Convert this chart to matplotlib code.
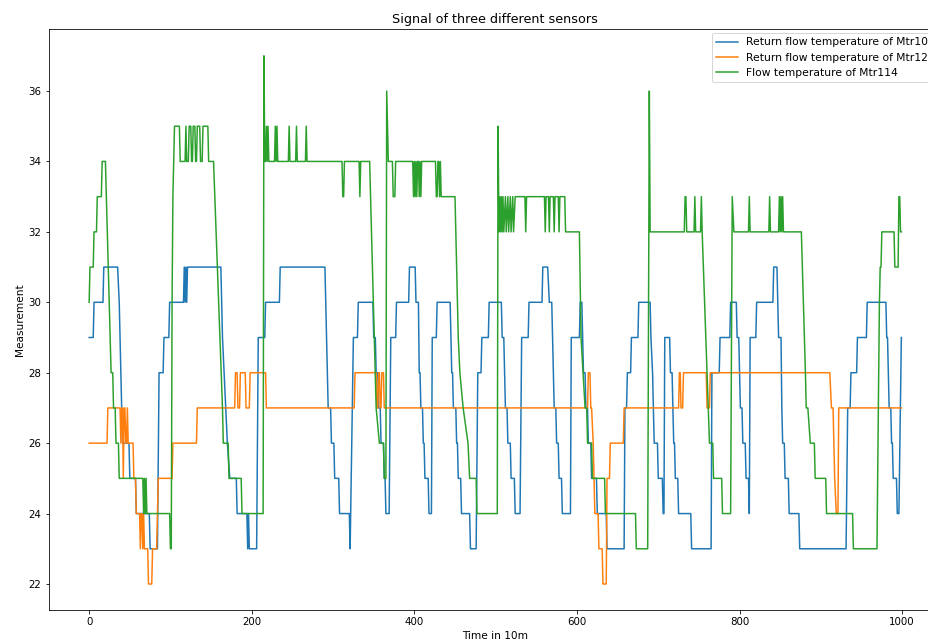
import matplotlib
matplotlib.use("Agg")
import matplotlib.pyplot as plt

# Polyline vertices (sample index, temperature) of each sensor signal
mtr105 = [(0, 29), (5, 29), (6, 30), (17, 30), (18, 31), (35, 31), (37, 30), (38, 29), (39, 28), (40, 27),
          (41, 26), (49, 26), (50, 25), (57, 25), (58, 24), (74, 24), (75, 23), (84, 23), (86, 28), (91, 28),
          (92, 29), (98, 29), (99, 30), (116, 30), (117, 31), (118, 30), (119, 31), (120, 30), (121, 31),
          (162, 31), (163, 30), (164, 29), (166, 28), (168, 27), (170, 26), (173, 25), (181, 25), (182, 24),
          (194, 24), (195, 23), (196, 24), (197, 23), (206, 23), (208, 29), (216, 29), (217, 30), (234, 30),
          (235, 31), (290, 31), (292, 29), (293, 28), (294, 27), (297, 27), (298, 26), (301, 26), (302, 25),
          (307, 25), (308, 24), (320, 24), (321, 23), (325, 29), (330, 29), (331, 30), (349, 30), (350, 29),
          (352, 29), (353, 28), (355, 28), (356, 27), (358, 27), (359, 26), (362, 26), (363, 25), (364, 25),
          (365, 24), (369, 24), (371, 29), (377, 29), (378, 30), (393, 30), (394, 31), (401, 31), (402, 30),
          (405, 30), (406, 28), (407, 28), (408, 27), (410, 27), (411, 26), (412, 26), (413, 25), (417, 25),
          (418, 24), (421, 24), (422, 29), (427, 29), (428, 30), (444, 30), (445, 29), (446, 28), (447, 28),
          (448, 27), (451, 27), (452, 26), (453, 26), (454, 25), (457, 25), (458, 24), (468, 24), (469, 23),
          (476, 23), (478, 28), (482, 28), (483, 29), (491, 29), (492, 30), (507, 30), (508, 29), (510, 29),
          (511, 28), (512, 27), (514, 27), (515, 26), (518, 26), (519, 25), (523, 25), (524, 24), (530, 24),
          (532, 29), (540, 29), (541, 30), (557, 30), (558, 31), (564, 31), (566, 30), (569, 30), (570, 29),
          (571, 28), (572, 27), (574, 27), (575, 26), (577, 26), (578, 25), (581, 25), (582, 24), (592, 24),
          (593, 29), (603, 29), (604, 30), (606, 30), (607, 29), (608, 28), (610, 28), (611, 27), (613, 27),
          (614, 26), (617, 26), (618, 25), (624, 25), (625, 24), (636, 24), (637, 23), (658, 23), (659, 27),
          (661, 27), (662, 28), (666, 28), (667, 29), (675, 29), (676, 30), (690, 30), (691, 29), (693, 28),
          (694, 27), (695, 26), (699, 26), (700, 25), (705, 25), (706, 24), (707, 24), (708, 29), (714, 29),
          (715, 28), (717, 28), (718, 27), (719, 26), (720, 26), (721, 25), (724, 25), (725, 24), (740, 24),
          (741, 23), (765, 23), (766, 28), (775, 28), (776, 29), (788, 29), (789, 30), (796, 30), (797, 29),
          (799, 29), (800, 28), (801, 27), (803, 27), (804, 26), (807, 26), (808, 25), (811, 25), (812, 24),
          (813, 29), (820, 29), (821, 30), (841, 30), (842, 31), (846, 31), (847, 30), (848, 29), (851, 29),
          (852, 27), (853, 26), (855, 26), (856, 25), (860, 25), (861, 24), (873, 24), (874, 23), (931, 23),
          (933, 27), (936, 27), (937, 28), (944, 28), (945, 29), (956, 29), (957, 30), (980, 30), (981, 29),
          (982, 29), (983, 28), (984, 27), (986, 27), (987, 26), (988, 26), (989, 25), (993, 25), (994, 24),
          (996, 24), (999, 29)]

mtr127 = [(0, 26), (22, 26), (23, 27), (38, 27), (39, 26), (40, 27), (41, 27), (42, 25), (43, 27), (44, 27),
          (45, 26), (46, 26), (47, 27), (48, 26), (54, 26), (55, 25), (57, 25), (58, 24), (62, 24), (63, 23),
          (64, 24), (65, 24), (66, 23), (67, 24), (68, 23), (72, 23), (73, 22), (77, 22), (78, 23), (83, 23),
          (85, 25), (102, 25), (103, 26), (132, 26), (133, 27), (179, 27), (180, 28), (182, 28), (183, 27),
          (185, 27), (186, 28), (192, 28), (193, 27), (197, 27), (198, 28), (217, 28), (218, 27), (326, 27),
          (327, 28), (353, 28), (354, 27), (355, 27), (356, 28), (357, 28), (358, 27), (359, 27), (360, 28),
          (362, 28), (363, 27), (613, 27), (614, 28), (616, 28), (617, 27), (618, 27), (620, 26), (621, 25),
          (622, 24), (626, 24), (627, 23), (631, 23), (632, 22), (636, 22), (637, 25), (640, 25), (641, 26),
          (657, 26), (658, 27), (725, 27), (726, 28), (727, 28), (728, 27), (730, 27), (731, 28), (759, 28),
          (760, 27), (763, 27), (764, 28), (911, 28), (913, 27), (915, 27), (917, 25), (919, 24), (921, 24),
          (922, 27), (999, 27)]

mtr114 = [(0, 30), (1, 31), (5, 31), (6, 32), (9, 32), (10, 33), (15, 33), (16, 34), (20, 34), (27, 28),
          (29, 28), (30, 27), (32, 27), (33, 26), (36, 26), (37, 25), (66, 25), (67, 24), (68, 25), (69, 24),
          (70, 25), (71, 24), (99, 24), (100, 23), (101, 23), (102, 30), (103, 33), (104, 34), (105, 35),
          (111, 35), (112, 34), (118, 34), (119, 35), (120, 34), (122, 34), (123, 35), (125, 35), (126, 34),
          (127, 34), (128, 35), (130, 35), (131, 34), (132, 34), (133, 35), (136, 35), (137, 34), (139, 34),
          (140, 35), (146, 35), (147, 34), (153, 34), (164, 27), (165, 26), (171, 26), (172, 25), (187, 25),
          (188, 24), (214, 24), (215, 37), (216, 34), (217, 34), (218, 35), (219, 34), (220, 35), (221, 34),
          (228, 34), (229, 35), (230, 34), (231, 35), (232, 34), (245, 34), (246, 35), (247, 34), (254, 34),
          (255, 35), (256, 34), (266, 34), (267, 35), (268, 34), (311, 34), (312, 33), (313, 33), (314, 34),
          (332, 34), (333, 33), (334, 34), (345, 34), (353, 27), (357, 26), (362, 26), (363, 25), (365, 25),
          (366, 36), (368, 34), (373, 34), (374, 33), (376, 33), (377, 34), (398, 34), (399, 33), (400, 34),
          (401, 33), (402, 34), (403, 33), (404, 34), (405, 34), (406, 33), (407, 34), (408, 33), (409, 34),
          (426, 34), (427, 33), (428, 33), (429, 34), (430, 34), (431, 33), (432, 34), (433, 33), (450, 33),
          (454, 29), (456, 28), (460, 27), (466, 26), (468, 25), (476, 25), (477, 24), (502, 24), (503, 35),
          (504, 32), (505, 33), (506, 32), (507, 33), (508, 32), (509, 33), (510, 32), (512, 33), (513, 32),
          (515, 33), (516, 32), (518, 33), (519, 32), (521, 33), (522, 32), (524, 33), (536, 33), (537, 32),
          (538, 33), (560, 33), (561, 32), (562, 33), (565, 33), (566, 32), (567, 33), (571, 33), (572, 32),
          (573, 33), (577, 33), (578, 32), (579, 33), (585, 33), (586, 32), (603, 32), (605, 29), (610, 27),
          (612, 27), (613, 26), (618, 26), (619, 25), (634, 25), (635, 24), (672, 24), (673, 23), (687, 23),
          (689, 36), (690, 32), (732, 32), (733, 33), (734, 33), (735, 32), (744, 32), (745, 33), (746, 32),
          (752, 32), (753, 33), (754, 32), (763, 26), (767, 26), (768, 25), (778, 25), (779, 24), (789, 24),
          (791, 33), (793, 32), (811, 32), (812, 33), (813, 32), (836, 32), (837, 33), (838, 32), (848, 32),
          (849, 33), (850, 32), (851, 33), (852, 32), (853, 33), (854, 32), (876, 32), (881, 28), (882, 27),
          (884, 27), (887, 26), (892, 26), (893, 25), (906, 25), (907, 24), (939, 24), (940, 23), (969, 23),
          (972, 30), (973, 31), (974, 31), (975, 32), (990, 32), (991, 31), (995, 31), (996, 33), (997, 33),
          (998, 32), (999, 32)]

series = [
    ("Return flow temperature of Mtr105", mtr105, "#1f77b4"),
    ("Return flow temperature of Mtr127", mtr127, "#ff7f0e"),
    ("Flow temperature of Mtr114", mtr114, "#2ca02c"),
]

W, H, DPI = 928, 641, 72
fig = plt.figure(figsize=(W / DPI, H / DPI), dpi=DPI)
# the plotting area runs past the right edge of the canvas
ax = fig.add_axes([48.5 / W, (H - 610.4) / H, (942 - 48.5) / W, (610.4 - 29.4) / H])

for label, pts, color in series:
    xs = [p[0] for p in pts]
    ys = [p[1] for p in pts]
    ax.plot(xs, ys, color=color, lw=1.5, label=label)

ax.set_xlim(-50, 1049)
ax.set_ylim(21.25, 37.75)
ax.set_xticks([0, 200, 400, 600, 800, 1000])
ax.set_yticks([22, 24, 26, 28, 30, 32, 34, 36])
ax.tick_params(labelsize=10.3)

ax.set_title("Signal of three different sensors", fontsize=12.8, pad=6)
ax.set_xlabel("Time in 10m", fontsize=10.5)
ax.set_ylabel("Measurement", fontsize=10.5)

ax.legend(loc="upper left", bbox_to_anchor=(712 / W, (H - 33) / H),
          bbox_transform=fig.transFigure, borderaxespad=0, fontsize=10.7)

fig.savefig("out.png", dpi=DPI)
